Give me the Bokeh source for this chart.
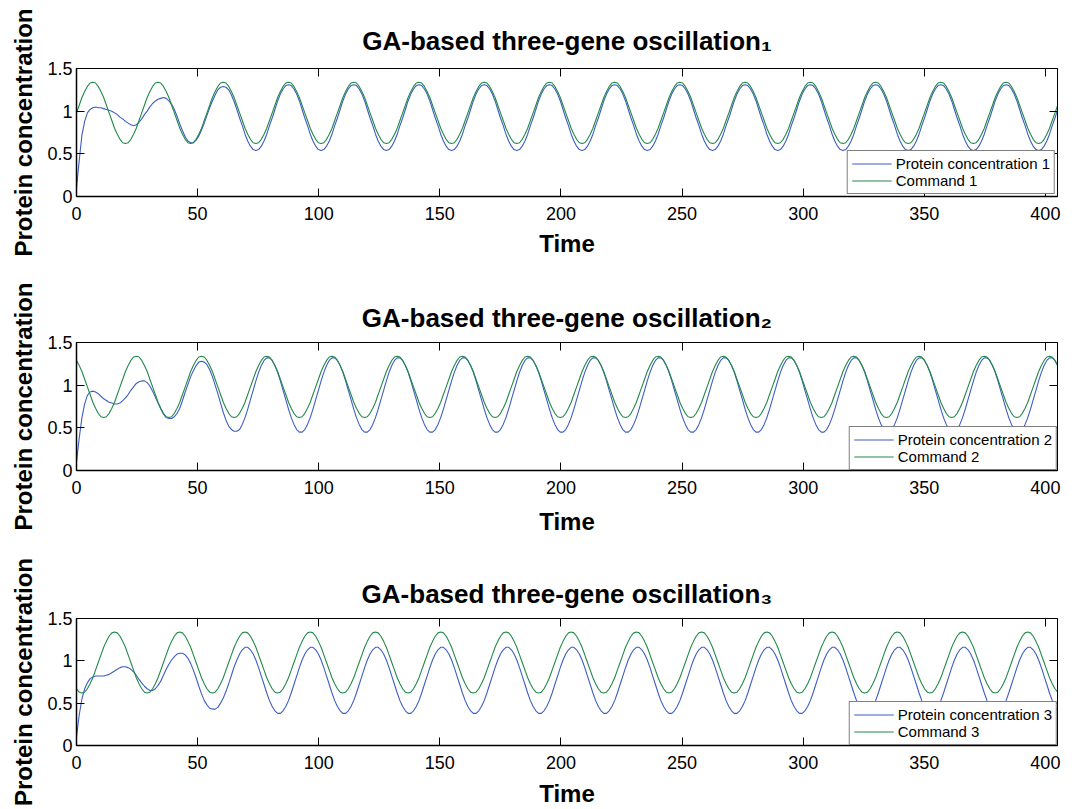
from bokeh.plotting import figure
from bokeh.layouts import column
from bokeh.models import Range1d, LinearAxis, FixedTicker, Legend, LegendItem
from bokeh.embed import file_html
from bokeh.resources import INLINE

# ---------------- data ----------------
time_step = 1.1221          # sampling interval of the series below
n_samples = 362
time = [round(k * time_step, 4) for k in range(n_samples)]

protein_1 = [
    0.10, 0.42, 0.72, 0.88, 0.98, 1.02, 1.04, 1.05, 1.04, 1.04, 1.03, 1.02, 1.01, 1.00, 0.98, 0.96, 0.93, 0.91, 0.88, 0.86, 0.84, 0.83, 0.84, 0.87,
    0.91, 0.96, 1.00, 1.05, 1.09, 1.12, 1.14, 1.15, 1.16, 1.15, 1.12, 1.08, 1.02, 0.94, 0.85, 0.77, 0.70, 0.65, 0.63, 0.63, 0.66, 0.71, 0.78, 0.86,
    0.95, 1.04, 1.12, 1.19, 1.25, 1.28, 1.29, 1.28, 1.25, 1.19, 1.11, 1.02, 0.92, 0.83, 0.73, 0.65, 0.59, 0.55, 0.54, 0.55, 0.59, 0.65, 0.73, 0.83,
    0.92, 1.02, 1.12, 1.20, 1.26, 1.30, 1.31, 1.30, 1.26, 1.20, 1.12, 1.02, 0.92, 0.83, 0.73, 0.65, 0.59, 0.55, 0.54, 0.55, 0.59, 0.65, 0.73, 0.83,
    0.92, 1.02, 1.12, 1.20, 1.26, 1.30, 1.31, 1.30, 1.26, 1.20, 1.12, 1.02, 0.92, 0.83, 0.73, 0.65, 0.59, 0.55, 0.54, 0.55, 0.59, 0.65, 0.73, 0.83,
    0.92, 1.02, 1.12, 1.20, 1.26, 1.30, 1.31, 1.30, 1.26, 1.20, 1.12, 1.02, 0.92, 0.83, 0.73, 0.65, 0.59, 0.55, 0.54, 0.55, 0.59, 0.65, 0.73, 0.83,
    0.92, 1.02, 1.12, 1.20, 1.26, 1.30, 1.31, 1.30, 1.26, 1.20, 1.12, 1.02, 0.92, 0.83, 0.73, 0.65, 0.59, 0.55, 0.54, 0.55, 0.59, 0.65, 0.73, 0.83,
    0.92, 1.02, 1.12, 1.20, 1.26, 1.30, 1.31, 1.30, 1.26, 1.20, 1.12, 1.02, 0.92, 0.83, 0.73, 0.65, 0.59, 0.55, 0.54, 0.55, 0.59, 0.65, 0.73, 0.83,
    0.92, 1.02, 1.12, 1.20, 1.26, 1.30, 1.31, 1.30, 1.26, 1.20, 1.12, 1.02, 0.92, 0.83, 0.73, 0.65, 0.59, 0.55, 0.54, 0.55, 0.59, 0.65, 0.73, 0.83,
    0.92, 1.02, 1.12, 1.20, 1.26, 1.30, 1.31, 1.30, 1.26, 1.20, 1.12, 1.02, 0.92, 0.83, 0.73, 0.65, 0.59, 0.55, 0.54, 0.55, 0.59, 0.65, 0.73, 0.83,
    0.92, 1.02, 1.12, 1.20, 1.26, 1.30, 1.31, 1.30, 1.26, 1.20, 1.12, 1.02, 0.92, 0.83, 0.73, 0.65, 0.59, 0.55, 0.54, 0.55, 0.59, 0.65, 0.73, 0.83,
    0.92, 1.02, 1.12, 1.20, 1.26, 1.30, 1.31, 1.30, 1.26, 1.20, 1.12, 1.02, 0.92, 0.83, 0.73, 0.65, 0.59, 0.55, 0.54, 0.55, 0.59, 0.65, 0.73, 0.83,
    0.92, 1.02, 1.12, 1.20, 1.26, 1.30, 1.31, 1.30, 1.26, 1.20, 1.12, 1.02, 0.92, 0.83, 0.73, 0.65, 0.59, 0.55, 0.54, 0.55, 0.59, 0.65, 0.73, 0.83,
    0.92, 1.02, 1.12, 1.20, 1.26, 1.30, 1.31, 1.30, 1.26, 1.20, 1.12, 1.02, 0.92, 0.83, 0.73, 0.65, 0.59, 0.55, 0.54, 0.55, 0.59, 0.65, 0.73, 0.83,
    0.92, 1.02, 1.12, 1.20, 1.26, 1.30, 1.31, 1.30, 1.26, 1.20, 1.12, 1.02, 0.92, 0.83, 0.73, 0.65, 0.59, 0.55, 0.54, 0.55, 0.59, 0.65, 0.73, 0.83,
    0.92, 1.02,
]

command_1 = [
    0.98, 1.07, 1.16, 1.23, 1.29, 1.33, 1.34, 1.33, 1.29, 1.23, 1.16, 1.07, 0.98, 0.89, 0.80, 0.73, 0.67, 0.63, 0.62, 0.63, 0.67, 0.73, 0.80, 0.89,
    0.98, 1.07, 1.16, 1.23, 1.29, 1.33, 1.34, 1.33, 1.29, 1.23, 1.16, 1.07, 0.98, 0.89, 0.80, 0.73, 0.67, 0.63, 0.62, 0.63, 0.67, 0.73, 0.80, 0.89,
    0.98, 1.07, 1.16, 1.23, 1.29, 1.33, 1.34, 1.33, 1.29, 1.23, 1.16, 1.07, 0.98, 0.89, 0.80, 0.73, 0.67, 0.63, 0.62, 0.63, 0.67, 0.73, 0.80, 0.89,
    0.98, 1.07, 1.16, 1.23, 1.29, 1.33, 1.34, 1.33, 1.29, 1.23, 1.16, 1.07, 0.98, 0.89, 0.80, 0.73, 0.67, 0.63, 0.62, 0.63, 0.67, 0.73, 0.80, 0.89,
    0.98, 1.07, 1.16, 1.23, 1.29, 1.33, 1.34, 1.33, 1.29, 1.23, 1.16, 1.07, 0.98, 0.89, 0.80, 0.73, 0.67, 0.63, 0.62, 0.63, 0.67, 0.73, 0.80, 0.89,
    0.98, 1.07, 1.16, 1.23, 1.29, 1.33, 1.34, 1.33, 1.29, 1.23, 1.16, 1.07, 0.98, 0.89, 0.80, 0.73, 0.67, 0.63, 0.62, 0.63, 0.67, 0.73, 0.80, 0.89,
    0.98, 1.07, 1.16, 1.23, 1.29, 1.33, 1.34, 1.33, 1.29, 1.23, 1.16, 1.07, 0.98, 0.89, 0.80, 0.73, 0.67, 0.63, 0.62, 0.63, 0.67, 0.73, 0.80, 0.89,
    0.98, 1.07, 1.16, 1.23, 1.29, 1.33, 1.34, 1.33, 1.29, 1.23, 1.16, 1.07, 0.98, 0.89, 0.80, 0.73, 0.67, 0.63, 0.62, 0.63, 0.67, 0.73, 0.80, 0.89,
    0.98, 1.07, 1.16, 1.23, 1.29, 1.33, 1.34, 1.33, 1.29, 1.23, 1.16, 1.07, 0.98, 0.89, 0.80, 0.73, 0.67, 0.63, 0.62, 0.63, 0.67, 0.73, 0.80, 0.89,
    0.98, 1.07, 1.16, 1.23, 1.29, 1.33, 1.34, 1.33, 1.29, 1.23, 1.16, 1.07, 0.98, 0.89, 0.80, 0.73, 0.67, 0.63, 0.62, 0.63, 0.67, 0.73, 0.80, 0.89,
    0.98, 1.07, 1.16, 1.23, 1.29, 1.33, 1.34, 1.33, 1.29, 1.23, 1.16, 1.07, 0.98, 0.89, 0.80, 0.73, 0.67, 0.63, 0.62, 0.63, 0.67, 0.73, 0.80, 0.89,
    0.98, 1.07, 1.16, 1.23, 1.29, 1.33, 1.34, 1.33, 1.29, 1.23, 1.16, 1.07, 0.98, 0.89, 0.80, 0.73, 0.67, 0.63, 0.62, 0.63, 0.67, 0.73, 0.80, 0.89,
    0.98, 1.07, 1.16, 1.23, 1.29, 1.33, 1.34, 1.33, 1.29, 1.23, 1.16, 1.07, 0.98, 0.89, 0.80, 0.73, 0.67, 0.63, 0.62, 0.63, 0.67, 0.73, 0.80, 0.89,
    0.98, 1.07, 1.16, 1.23, 1.29, 1.33, 1.34, 1.33, 1.29, 1.23, 1.16, 1.07, 0.98, 0.89, 0.80, 0.73, 0.67, 0.63, 0.62, 0.63, 0.67, 0.73, 0.80, 0.89,
    0.98, 1.07, 1.16, 1.23, 1.29, 1.33, 1.34, 1.33, 1.29, 1.23, 1.16, 1.07, 0.98, 0.89, 0.80, 0.73, 0.67, 0.63, 0.62, 0.63, 0.67, 0.73, 0.80, 0.89,
    0.98, 1.07,
]

protein_2 = [
    0.10, 0.38, 0.62, 0.78, 0.88, 0.92, 0.93, 0.92, 0.90, 0.87, 0.84, 0.82, 0.80, 0.79, 0.78, 0.78, 0.79, 0.82, 0.85, 0.89, 0.94, 0.98, 1.02, 1.04,
    1.05, 1.05, 1.03, 0.99, 0.93, 0.86, 0.79, 0.72, 0.66, 0.62, 0.61, 0.61, 0.63, 0.67, 0.73, 0.82, 0.92, 1.01, 1.10, 1.17, 1.23, 1.27, 1.28, 1.27,
    1.24, 1.18, 1.10, 1.00, 0.90, 0.79, 0.68, 0.59, 0.52, 0.48, 0.46, 0.46, 0.48, 0.54, 0.62, 0.72, 0.83, 0.94, 1.05, 1.15, 1.23, 1.29, 1.32, 1.32,
    1.29, 1.23, 1.15, 1.05, 0.94, 0.83, 0.72, 0.62, 0.54, 0.48, 0.45, 0.45, 0.48, 0.54, 0.62, 0.72, 0.83, 0.94, 1.05, 1.15, 1.23, 1.29, 1.32, 1.32,
    1.29, 1.23, 1.15, 1.05, 0.94, 0.83, 0.72, 0.62, 0.54, 0.48, 0.45, 0.45, 0.48, 0.54, 0.62, 0.72, 0.83, 0.94, 1.05, 1.15, 1.23, 1.29, 1.32, 1.32,
    1.29, 1.23, 1.15, 1.05, 0.94, 0.83, 0.72, 0.62, 0.54, 0.48, 0.45, 0.45, 0.48, 0.54, 0.62, 0.72, 0.83, 0.94, 1.05, 1.15, 1.23, 1.29, 1.32, 1.32,
    1.29, 1.23, 1.15, 1.05, 0.94, 0.83, 0.72, 0.62, 0.54, 0.48, 0.45, 0.45, 0.48, 0.54, 0.62, 0.72, 0.83, 0.94, 1.05, 1.15, 1.23, 1.29, 1.32, 1.32,
    1.29, 1.23, 1.15, 1.05, 0.94, 0.83, 0.72, 0.62, 0.54, 0.48, 0.45, 0.45, 0.48, 0.54, 0.62, 0.72, 0.83, 0.94, 1.05, 1.15, 1.23, 1.29, 1.32, 1.32,
    1.29, 1.23, 1.15, 1.05, 0.94, 0.83, 0.72, 0.62, 0.54, 0.48, 0.45, 0.45, 0.48, 0.54, 0.62, 0.72, 0.83, 0.94, 1.05, 1.15, 1.23, 1.29, 1.32, 1.32,
    1.29, 1.23, 1.15, 1.05, 0.94, 0.83, 0.72, 0.62, 0.54, 0.48, 0.45, 0.45, 0.48, 0.54, 0.62, 0.72, 0.83, 0.94, 1.05, 1.15, 1.23, 1.29, 1.32, 1.32,
    1.29, 1.23, 1.15, 1.05, 0.94, 0.83, 0.72, 0.62, 0.54, 0.48, 0.45, 0.45, 0.48, 0.54, 0.62, 0.72, 0.83, 0.94, 1.05, 1.15, 1.23, 1.29, 1.32, 1.32,
    1.29, 1.23, 1.15, 1.05, 0.94, 0.83, 0.72, 0.62, 0.54, 0.48, 0.45, 0.45, 0.48, 0.54, 0.62, 0.72, 0.83, 0.94, 1.05, 1.15, 1.23, 1.29, 1.32, 1.32,
    1.29, 1.23, 1.15, 1.05, 0.94, 0.83, 0.72, 0.62, 0.54, 0.48, 0.45, 0.45, 0.48, 0.54, 0.62, 0.72, 0.83, 0.94, 1.05, 1.15, 1.23, 1.29, 1.32, 1.32,
    1.29, 1.23, 1.15, 1.05, 0.94, 0.83, 0.72, 0.62, 0.54, 0.48, 0.45, 0.45, 0.48, 0.54, 0.62, 0.72, 0.83, 0.94, 1.05, 1.15, 1.23, 1.29, 1.32, 1.32,
    1.29, 1.23, 1.15, 1.05, 0.94, 0.83, 0.72, 0.62, 0.54, 0.48, 0.45, 0.45, 0.48, 0.54, 0.62, 0.72, 0.83, 0.94, 1.05, 1.15, 1.23, 1.29, 1.32, 1.32,
    1.29, 1.23,
]

command_2 = [
    1.29, 1.23, 1.16, 1.07, 0.98, 0.89, 0.80, 0.73, 0.67, 0.63, 0.62, 0.63, 0.67, 0.73, 0.80, 0.89, 0.98, 1.07, 1.16, 1.23, 1.29, 1.33, 1.34, 1.33,
    1.29, 1.23, 1.16, 1.07, 0.98, 0.89, 0.80, 0.73, 0.67, 0.63, 0.62, 0.63, 0.67, 0.73, 0.80, 0.89, 0.98, 1.07, 1.16, 1.23, 1.29, 1.33, 1.34, 1.33,
    1.29, 1.23, 1.16, 1.07, 0.98, 0.89, 0.80, 0.73, 0.67, 0.63, 0.62, 0.63, 0.67, 0.73, 0.80, 0.89, 0.98, 1.07, 1.16, 1.23, 1.29, 1.33, 1.34, 1.33,
    1.29, 1.23, 1.16, 1.07, 0.98, 0.89, 0.80, 0.73, 0.67, 0.63, 0.62, 0.63, 0.67, 0.73, 0.80, 0.89, 0.98, 1.07, 1.16, 1.23, 1.29, 1.33, 1.34, 1.33,
    1.29, 1.23, 1.16, 1.07, 0.98, 0.89, 0.80, 0.73, 0.67, 0.63, 0.62, 0.63, 0.67, 0.73, 0.80, 0.89, 0.98, 1.07, 1.16, 1.23, 1.29, 1.33, 1.34, 1.33,
    1.29, 1.23, 1.16, 1.07, 0.98, 0.89, 0.80, 0.73, 0.67, 0.63, 0.62, 0.63, 0.67, 0.73, 0.80, 0.89, 0.98, 1.07, 1.16, 1.23, 1.29, 1.33, 1.34, 1.33,
    1.29, 1.23, 1.16, 1.07, 0.98, 0.89, 0.80, 0.73, 0.67, 0.63, 0.62, 0.63, 0.67, 0.73, 0.80, 0.89, 0.98, 1.07, 1.16, 1.23, 1.29, 1.33, 1.34, 1.33,
    1.29, 1.23, 1.16, 1.07, 0.98, 0.89, 0.80, 0.73, 0.67, 0.63, 0.62, 0.63, 0.67, 0.73, 0.80, 0.89, 0.98, 1.07, 1.16, 1.23, 1.29, 1.33, 1.34, 1.33,
    1.29, 1.23, 1.16, 1.07, 0.98, 0.89, 0.80, 0.73, 0.67, 0.63, 0.62, 0.63, 0.67, 0.73, 0.80, 0.89, 0.98, 1.07, 1.16, 1.23, 1.29, 1.33, 1.34, 1.33,
    1.29, 1.23, 1.16, 1.07, 0.98, 0.89, 0.80, 0.73, 0.67, 0.63, 0.62, 0.63, 0.67, 0.73, 0.80, 0.89, 0.98, 1.07, 1.16, 1.23, 1.29, 1.33, 1.34, 1.33,
    1.29, 1.23, 1.16, 1.07, 0.98, 0.89, 0.80, 0.73, 0.67, 0.63, 0.62, 0.63, 0.67, 0.73, 0.80, 0.89, 0.98, 1.07, 1.16, 1.23, 1.29, 1.33, 1.34, 1.33,
    1.29, 1.23, 1.16, 1.07, 0.98, 0.89, 0.80, 0.73, 0.67, 0.63, 0.62, 0.63, 0.67, 0.73, 0.80, 0.89, 0.98, 1.07, 1.16, 1.23, 1.29, 1.33, 1.34, 1.33,
    1.29, 1.23, 1.16, 1.07, 0.98, 0.89, 0.80, 0.73, 0.67, 0.63, 0.62, 0.63, 0.67, 0.73, 0.80, 0.89, 0.98, 1.07, 1.16, 1.23, 1.29, 1.33, 1.34, 1.33,
    1.29, 1.23, 1.16, 1.07, 0.98, 0.89, 0.80, 0.73, 0.67, 0.63, 0.62, 0.63, 0.67, 0.73, 0.80, 0.89, 0.98, 1.07, 1.16, 1.23, 1.29, 1.33, 1.34, 1.33,
    1.29, 1.23, 1.16, 1.07, 0.98, 0.89, 0.80, 0.73, 0.67, 0.63, 0.62, 0.63, 0.67, 0.73, 0.80, 0.89, 0.98, 1.07, 1.16, 1.23, 1.29, 1.33, 1.34, 1.33,
    1.29, 1.23,
]

protein_3 = [
    0.10, 0.36, 0.55, 0.67, 0.74, 0.79, 0.81, 0.82, 0.82, 0.82, 0.82, 0.83, 0.84, 0.86, 0.88, 0.90, 0.92, 0.93, 0.93, 0.92, 0.90, 0.87, 0.83, 0.78,
    0.74, 0.70, 0.67, 0.65, 0.65, 0.67, 0.71, 0.76, 0.83, 0.90, 0.96, 1.01, 1.05, 1.08, 1.09, 1.09, 1.07, 1.03, 0.97, 0.89, 0.80, 0.70, 0.61, 0.53,
    0.48, 0.44, 0.43, 0.43, 0.45, 0.50, 0.56, 0.64, 0.73, 0.83, 0.93, 1.01, 1.08, 1.13, 1.16, 1.16, 1.13, 1.08, 1.01, 0.92, 0.82, 0.72, 0.62, 0.53,
    0.46, 0.41, 0.38, 0.38, 0.41, 0.46, 0.53, 0.62, 0.72, 0.82, 0.92, 1.01, 1.08, 1.13, 1.16, 1.16, 1.13, 1.08, 1.01, 0.92, 0.82, 0.72, 0.62, 0.53,
    0.46, 0.41, 0.38, 0.38, 0.41, 0.46, 0.53, 0.62, 0.72, 0.82, 0.92, 1.01, 1.08, 1.13, 1.16, 1.16, 1.13, 1.08, 1.01, 0.92, 0.82, 0.72, 0.62, 0.53,
    0.46, 0.41, 0.38, 0.38, 0.41, 0.46, 0.53, 0.62, 0.72, 0.82, 0.92, 1.01, 1.08, 1.13, 1.16, 1.16, 1.13, 1.08, 1.01, 0.92, 0.82, 0.72, 0.62, 0.53,
    0.46, 0.41, 0.38, 0.38, 0.41, 0.46, 0.53, 0.62, 0.72, 0.82, 0.92, 1.01, 1.08, 1.13, 1.16, 1.16, 1.13, 1.08, 1.01, 0.92, 0.82, 0.72, 0.62, 0.53,
    0.46, 0.41, 0.38, 0.38, 0.41, 0.46, 0.53, 0.62, 0.72, 0.82, 0.92, 1.01, 1.08, 1.13, 1.16, 1.16, 1.13, 1.08, 1.01, 0.92, 0.82, 0.72, 0.62, 0.53,
    0.46, 0.41, 0.38, 0.38, 0.41, 0.46, 0.53, 0.62, 0.72, 0.82, 0.92, 1.01, 1.08, 1.13, 1.16, 1.16, 1.13, 1.08, 1.01, 0.92, 0.82, 0.72, 0.62, 0.53,
    0.46, 0.41, 0.38, 0.38, 0.41, 0.46, 0.53, 0.62, 0.72, 0.82, 0.92, 1.01, 1.08, 1.13, 1.16, 1.16, 1.13, 1.08, 1.01, 0.92, 0.82, 0.72, 0.62, 0.53,
    0.46, 0.41, 0.38, 0.38, 0.41, 0.46, 0.53, 0.62, 0.72, 0.82, 0.92, 1.01, 1.08, 1.13, 1.16, 1.16, 1.13, 1.08, 1.01, 0.92, 0.82, 0.72, 0.62, 0.53,
    0.46, 0.41, 0.38, 0.38, 0.41, 0.46, 0.53, 0.62, 0.72, 0.82, 0.92, 1.01, 1.08, 1.13, 1.16, 1.16, 1.13, 1.08, 1.01, 0.92, 0.82, 0.72, 0.62, 0.53,
    0.46, 0.41, 0.38, 0.38, 0.41, 0.46, 0.53, 0.62, 0.72, 0.82, 0.92, 1.01, 1.08, 1.13, 1.16, 1.16, 1.13, 1.08, 1.01, 0.92, 0.82, 0.72, 0.62, 0.53,
    0.46, 0.41, 0.38, 0.38, 0.41, 0.46, 0.53, 0.62, 0.72, 0.82, 0.92, 1.01, 1.08, 1.13, 1.16, 1.16, 1.13, 1.08, 1.01, 0.92, 0.82, 0.72, 0.62, 0.53,
    0.46, 0.41, 0.38, 0.38, 0.41, 0.46, 0.53, 0.62, 0.72, 0.82, 0.92, 1.01, 1.08, 1.13, 1.16, 1.16, 1.13, 1.08, 1.01, 0.92, 0.82, 0.72, 0.62, 0.53,
    0.46, 0.41,
]

command_3 = [
    0.67, 0.63, 0.62, 0.63, 0.67, 0.73, 0.80, 0.89, 0.98, 1.07, 1.16, 1.23, 1.29, 1.33, 1.34, 1.33, 1.29, 1.23, 1.16, 1.07, 0.98, 0.89, 0.80, 0.73,
    0.67, 0.63, 0.62, 0.63, 0.67, 0.73, 0.80, 0.89, 0.98, 1.07, 1.16, 1.23, 1.29, 1.33, 1.34, 1.33, 1.29, 1.23, 1.16, 1.07, 0.98, 0.89, 0.80, 0.73,
    0.67, 0.63, 0.62, 0.63, 0.67, 0.73, 0.80, 0.89, 0.98, 1.07, 1.16, 1.23, 1.29, 1.33, 1.34, 1.33, 1.29, 1.23, 1.16, 1.07, 0.98, 0.89, 0.80, 0.73,
    0.67, 0.63, 0.62, 0.63, 0.67, 0.73, 0.80, 0.89, 0.98, 1.07, 1.16, 1.23, 1.29, 1.33, 1.34, 1.33, 1.29, 1.23, 1.16, 1.07, 0.98, 0.89, 0.80, 0.73,
    0.67, 0.63, 0.62, 0.63, 0.67, 0.73, 0.80, 0.89, 0.98, 1.07, 1.16, 1.23, 1.29, 1.33, 1.34, 1.33, 1.29, 1.23, 1.16, 1.07, 0.98, 0.89, 0.80, 0.73,
    0.67, 0.63, 0.62, 0.63, 0.67, 0.73, 0.80, 0.89, 0.98, 1.07, 1.16, 1.23, 1.29, 1.33, 1.34, 1.33, 1.29, 1.23, 1.16, 1.07, 0.98, 0.89, 0.80, 0.73,
    0.67, 0.63, 0.62, 0.63, 0.67, 0.73, 0.80, 0.89, 0.98, 1.07, 1.16, 1.23, 1.29, 1.33, 1.34, 1.33, 1.29, 1.23, 1.16, 1.07, 0.98, 0.89, 0.80, 0.73,
    0.67, 0.63, 0.62, 0.63, 0.67, 0.73, 0.80, 0.89, 0.98, 1.07, 1.16, 1.23, 1.29, 1.33, 1.34, 1.33, 1.29, 1.23, 1.16, 1.07, 0.98, 0.89, 0.80, 0.73,
    0.67, 0.63, 0.62, 0.63, 0.67, 0.73, 0.80, 0.89, 0.98, 1.07, 1.16, 1.23, 1.29, 1.33, 1.34, 1.33, 1.29, 1.23, 1.16, 1.07, 0.98, 0.89, 0.80, 0.73,
    0.67, 0.63, 0.62, 0.63, 0.67, 0.73, 0.80, 0.89, 0.98, 1.07, 1.16, 1.23, 1.29, 1.33, 1.34, 1.33, 1.29, 1.23, 1.16, 1.07, 0.98, 0.89, 0.80, 0.73,
    0.67, 0.63, 0.62, 0.63, 0.67, 0.73, 0.80, 0.89, 0.98, 1.07, 1.16, 1.23, 1.29, 1.33, 1.34, 1.33, 1.29, 1.23, 1.16, 1.07, 0.98, 0.89, 0.80, 0.73,
    0.67, 0.63, 0.62, 0.63, 0.67, 0.73, 0.80, 0.89, 0.98, 1.07, 1.16, 1.23, 1.29, 1.33, 1.34, 1.33, 1.29, 1.23, 1.16, 1.07, 0.98, 0.89, 0.80, 0.73,
    0.67, 0.63, 0.62, 0.63, 0.67, 0.73, 0.80, 0.89, 0.98, 1.07, 1.16, 1.23, 1.29, 1.33, 1.34, 1.33, 1.29, 1.23, 1.16, 1.07, 0.98, 0.89, 0.80, 0.73,
    0.67, 0.63, 0.62, 0.63, 0.67, 0.73, 0.80, 0.89, 0.98, 1.07, 1.16, 1.23, 1.29, 1.33, 1.34, 1.33, 1.29, 1.23, 1.16, 1.07, 0.98, 0.89, 0.80, 0.73,
    0.67, 0.63, 0.62, 0.63, 0.67, 0.73, 0.80, 0.89, 0.98, 1.07, 1.16, 1.23, 1.29, 1.33, 1.34, 1.33, 1.29, 1.23, 1.16, 1.07, 0.98, 0.89, 0.80, 0.73,
    0.67, 0.63,
]

x_ticks = [0, 50, 100, 150, 200, 250, 300, 350, 400]
y_ticks = [0, 0.5, 1, 1.5]
y_tick_labels = ["0", "0.5", "1", "1.5"]
titles = ["GA-based three-gene oscillation\u2081",
          "GA-based three-gene oscillation\u2082",
          "GA-based three-gene oscillation\u2083"]
protein_labels = ["Protein concentration 1", "Protein concentration 2", "Protein concentration 3"]
command_labels = ["Command 1", "Command 2", "Command 3"]
x_label = "Time"
y_label = "Protein concentration"

# ---------------- styling ----------------
FONT = "Liberation Sans"
BLUE = "#3d5dc3"
GREEN = "#22894a"


def make_panel(idx, protein, command, height, top, bottom, legend_margin,
               tick_standoff, label_standoff, title_standoff):
    p = figure(width=1079, height=height,
               x_range=Range1d(0, 405), y_range=Range1d(0, 1.5),
               output_backend="svg", toolbar_location=None,
               min_border_left=76, min_border_right=22,
               min_border_top=top, min_border_bottom=bottom)
    p.background_fill_color = "white"
    p.border_fill_color = "white"
    p.outline_line_color = "black"
    p.outline_line_width = 1
    p.xgrid.visible = False
    p.ygrid.visible = False

    p.title.text = titles[idx]
    p.title.align = "center"
    p.title.text_font = FONT
    p.title.text_font_size = "26px"
    p.title.text_font_style = "bold"
    p.title.text_color = "black"
    p.title.standoff = title_standoff

    xa = p.xaxis[0]
    xa.ticker = FixedTicker(ticks=x_ticks)
    xa.major_tick_in = 8
    xa.major_tick_out = 0
    xa.minor_tick_line_color = None
    xa.axis_line_width = 1.5
    xa.major_label_text_font = FONT
    xa.major_label_text_font_size = "18px"
    xa.major_label_text_color = "black"
    xa.major_label_standoff = tick_standoff
    xa.axis_label = x_label
    xa.axis_label_text_font = FONT
    xa.axis_label_text_font_size = "24px"
    xa.axis_label_text_font_style = "bold"
    xa.axis_label_text_color = "black"
    xa.axis_label_standoff = label_standoff

    ya = p.yaxis[0]
    ya.ticker = FixedTicker(ticks=y_ticks)
    ya.major_label_overrides = {t: lab for t, lab in zip(y_ticks, y_tick_labels)}
    ya.major_tick_in = 8
    ya.major_tick_out = 0
    ya.minor_tick_line_color = None
    ya.axis_line_width = 1.5
    ya.major_label_text_font = FONT
    ya.major_label_text_font_size = "18px"
    ya.major_label_text_color = "black"
    ya.major_label_standoff = 4
    ya.axis_label = y_label
    ya.axis_label_text_font = FONT
    ya.axis_label_text_font_size = "24px"
    ya.axis_label_text_font_style = "bold"
    ya.axis_label_text_color = "black"
    ya.axis_label_standoff = 7

    # mirrored tick marks on the top and right edges (box style)
    top_ax = LinearAxis(ticker=FixedTicker(ticks=x_ticks),
                        major_label_overrides={t: "" for t in x_ticks},
                        major_label_text_font_size="0px",
                        major_tick_in=8, major_tick_out=0, major_label_standoff=0,
                        minor_tick_line_color=None, axis_line_width=1)
    right_ax = LinearAxis(ticker=FixedTicker(ticks=y_ticks),
                          major_label_overrides={t: "" for t in y_ticks},
                          major_label_text_font_size="0px",
                          major_tick_in=8, major_tick_out=0, major_label_standoff=0,
                          minor_tick_line_color=None, axis_line_width=1)
    p.add_layout(top_ax, "above")
    p.add_layout(right_ax, "right")

    r1 = p.line(time, protein, line_color=BLUE, line_width=1.1)
    r2 = p.line(time, command, line_color=GREEN, line_width=1.1)

    legend = Legend(items=[LegendItem(label=protein_labels[idx], renderers=[r1]),
                           LegendItem(label=command_labels[idx], renderers=[r2])],
                    location="bottom_right", padding=4, spacing=0,
                    margin=legend_margin,
                    glyph_width=40, glyph_height=17, label_height=17,
                    label_standoff=4, label_text_font=FONT,
                    label_text_font_size="15px", label_text_color="black",
                    border_line_color="black", border_line_width=1,
                    background_fill_color="white", background_fill_alpha=1)
    p.add_layout(legend)
    return p


p1 = make_panel(0, protein_1, command_1, 278, 68, 82, 2, 10, 7, 26)
p2 = make_panel(1, protein_2, command_2, 277, 64, 85, 0, 10, 11, 20)
p3 = make_panel(2, protein_3, command_3, 254, 63, 63, 0, 10, 8, 20)

layout = column(p1, p2, p3, spacing=0)
open("out.html", "w").write(file_html(layout, INLINE))
